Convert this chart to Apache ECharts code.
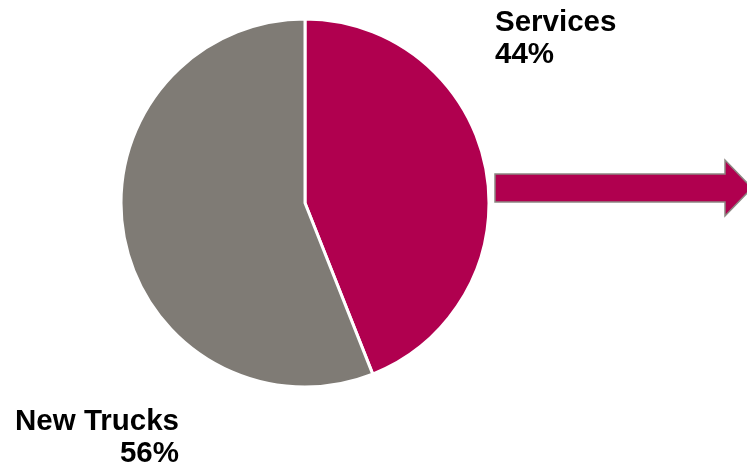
<!DOCTYPE html>
<html>
<head>
<meta charset="utf-8">
<script src="https://cdn.jsdelivr.net/npm/echarts@6/dist/echarts.min.js"></script>
<style>html,body{margin:0;padding:0;background:#fff;}#c{width:747px;height:469px;}</style>
</head>
<body>
<div id="c"></div>
<script>
const categories = ['Services', 'New Trucks'];
const values = [44, 56];
const colors = ['#B0004F', '#7F7B75'];

const chart = echarts.init(document.getElementById('c'), null, {renderer: 'canvas'});
const lbl = (i) => categories[i] + '\n' + values[i] + '%';
chart.setOption({
  animation: false,
  backgroundColor: '#ffffff',
  series: [{
    type: 'pie',
    center: [305, 203],
    radius: [0, 184],
    startAngle: 90,
    clockwise: true,
    label: {show: false},
    labelLine: {show: false},
    emphasis: {disabled: true},
    itemStyle: {borderColor: '#ffffff', borderWidth: 3},
    data: categories.map((c, i) => ({name: c, value: values[i], itemStyle: {color: colors[i]}}))
  }],
  graphic: [
    {
      type: 'polygon',
      shape: {points: [[495,174],[725,174],[725,160],[752,188],[725,216],[725,202],[495,202]]},
      style: {fill: '#B0004F', stroke: '#8C8782', lineWidth: 1.5}
    },
    {
      type: 'text', x: 495, y: 7,
      style: {text: lbl(0), font: 'bold 29.5px "Liberation Sans", Arial, sans-serif', fill: '#000', lineHeight: 32, align: 'left', verticalAlign: 'top'}
    },
    {
      type: 'text', x: 179, y: 406,
      style: {text: lbl(1), font: 'bold 29.5px "Liberation Sans", Arial, sans-serif', fill: '#000', lineHeight: 32, align: 'right', verticalAlign: 'top'}
    }
  ]
});
</script>
</body>
</html>
